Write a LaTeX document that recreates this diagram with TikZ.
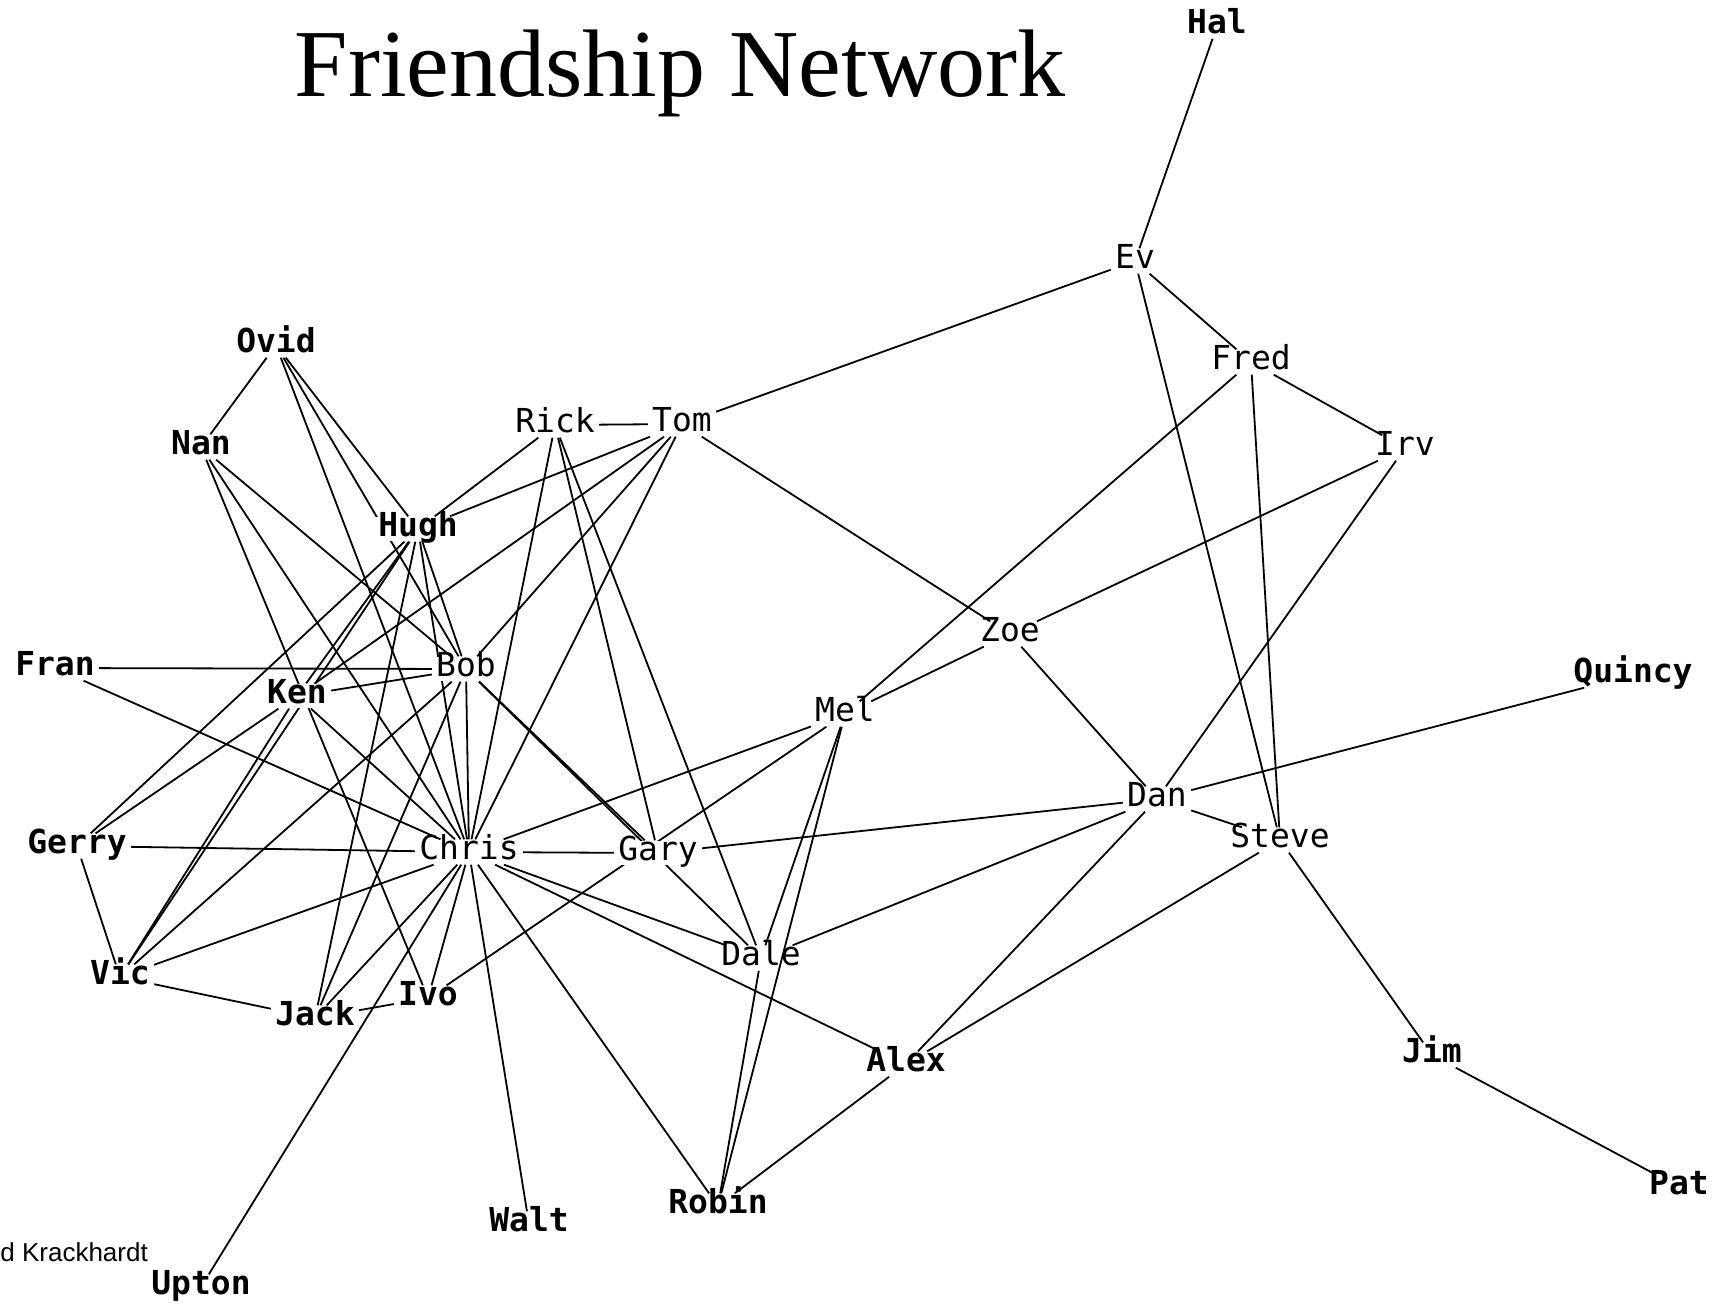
\documentclass[tikz,border=0pt]{standalone}
\usepackage{fontspec}
\setmainfont{Liberation Serif}
\newfontfamily\plotfont{DejaVu Sans Mono}
\newfontfamily\notefont{Liberation Sans}
\pgfdeclarelayer{paper}
\pgfdeclarelayer{ties}
\pgfsetlayers{paper,ties,main}
\begin{document}
\begin{tikzpicture}[x=0.5pt,y=-0.5pt,
  person/.style={font=\plotfont\fontsize{16.5}{18}\selectfont, fill=white,
    inner xsep=2pt, inner ysep=2.5pt, text height=0.73em, text depth=0pt, yshift=-2pt},
  heavy/.style={person, font=\plotfont\bfseries\fontsize{16.5}{18}\selectfont},
  tie/.style={line width=0.9pt, black}]
\begin{pgfonlayer}{paper}
\fill[white] (0,0) rectangle (1725,1303);
\end{pgfonlayer}
\useasboundingbox (0,0) rectangle (1725,1303);

% title and credit
\node[font=\fontsize{48}{56}\selectfont, anchor=base, inner sep=0] (title) at (680,96) {Friendship Network};
\node[font=\notefont\fontsize{13}{15}\selectfont, anchor=base west, inner sep=0] (credit) at (0,1261) {d Krackhardt};

% people
\node[heavy]  (hal)    at (1217,22)  {Hal};
\node[person] (ev)     at (1135,257) {Ev};
\node[person] (fred)   at (1251,358) {Fred};
\node[person] (irv)    at (1405,444) {Irv};
\node[heavy]  (ovid)   at (276,341)  {Ovid};
\node[heavy]  (nan)    at (201,443)  {Nan};
\node[person] (rick)   at (555,421)  {Rick};
\node[person] (tom)    at (682,420)  {Tom};
\node[heavy]  (hugh)   at (418,525)  {Hugh};
\node[person] (zoe)    at (1010,630) {Zoe};
\node[heavy]  (fran)   at (55,664)   {Fran};
\node[person] (bob)    at (466,665)  {Bob};
\node[heavy]  (ken)    at (297,692)  {Ken};
\node[person] (mel)    at (845,710)  {Mel};
\node[heavy]  (quincy) at (1633,671) {Quincy};
\node[person] (dan)    at (1157,795) {Dan};
\node[person] (steve)  at (1280,836) {Steve};
\node[heavy]  (gerry)  at (77,842)   {Gerry};
\node[person] (chris)  at (469,848)  {Chris};
\node[person] (gary)   at (658,849)  {Gary};
\node[person] (dale)   at (761,954)  {Dale};
\node[heavy]  (vic)    at (120,973)  {Vic};
\node[heavy]  (jack)   at (315,1014) {Jack};
\node[heavy]  (ivo)    at (428,994)  {Ivo};
\node[heavy]  (alex)   at (906,1060) {Alex};
\node[heavy]  (jim)    at (1432,1051) {Jim};
\node[heavy]  (pat)    at (1679,1183) {Pat};
\node[heavy]  (walt)   at (529,1220) {Walt};
\node[heavy]  (robin)  at (718,1202) {Robin};
\node[heavy]  (upton)  at (201,1283) {Upton};

% friendship ties (drawn beneath the names)
\begin{pgfonlayer}{ties}
\foreach \a/\b in {hal/ev, ev/tom, ev/fred, ev/steve, fred/irv, fred/mel, fred/steve,
  irv/zoe, irv/dan, zoe/tom, zoe/mel, zoe/dan, dan/quincy, dan/steve, dan/gary,
  dan/dale, dan/alex, steve/alex, steve/jim, jim/pat, alex/chris, alex/robin,
  robin/chris, robin/dale, mel/dale, mel/chris, mel/ivo, dale/chris,
  dale/rick, bob/dale, bob/gary, gary/chris, gary/rick, rick/tom, rick/hugh,
  rick/chris, tom/hugh, tom/ken, tom/bob, tom/chris, ovid/nan, ovid/hugh,
  ovid/bob, ovid/chris, nan/bob, nan/chris, nan/ivo, hugh/gerry, hugh/ken,
  hugh/vic, hugh/jack, hugh/chris, hugh/bob, fran/bob, fran/chris, ken/bob,
  ken/gerry, ken/vic, ken/chris, bob/vic, bob/jack, bob/chris, gerry/chris,
  gerry/vic, vic/chris, vic/jack, jack/ivo, jack/chris, ivo/chris, chris/walt,
  chris/upton}
  \draw[tie] (\a) -- (\b);
\end{pgfonlayer}

% this tie runs across the name Dale
\draw[tie] (mel) -- (robin);
\end{tikzpicture}
\end{document}
